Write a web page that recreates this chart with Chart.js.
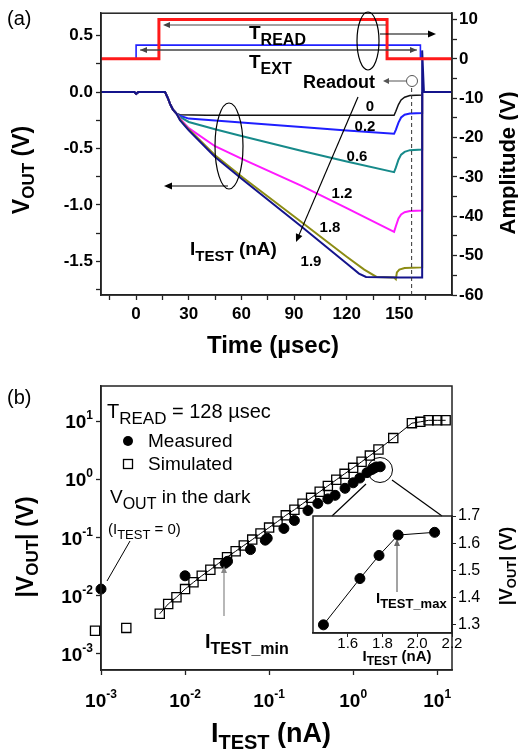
<!DOCTYPE html>
<html><head><meta charset="utf-8">
<script src="https://cdn.jsdelivr.net/npm/chart.js@4.4.1/dist/chart.umd.min.js"></script>
<style>
html,body{margin:0;padding:0;background:#fff;}
body{width:518px;height:753px;position:relative;overflow:hidden;}
canvas{position:absolute;}
#ca{left:0;top:0;} #cb{left:0;top:370px;} #ci{left:300px;top:500px;}
</style></head><body>
<canvas id="ca" width="518" height="370"></canvas>
<canvas id="cb" width="518" height="383"></canvas>
<canvas id="ci" width="218" height="180"></canvas>
<script>
// ---------- Panel (a) data ----------
const tRead = [-20, 13, 13, 143, 143, 180];
const vRead = [0, 0, 10, 10, 0, 0];
const tExt = [-20, 0, 0, 162, 162, 180];
const vExt = [0, 0, 3.5, 3.5, 0, 0];

const t0 = [-20,-1,0,1.2,16.5,18,19.5,21,23,25,40,147,148,149.5,151,153,156,163,163];
const v0 = [0,0,-0.015,0,0,-0.05,-0.11,-0.155,-0.19,-0.2,-0.205,-0.205,-0.17,-0.11,-0.07,-0.045,-0.03,-0.025,0];
const t02 = [-20,-1,0,1.2,16.5,18,19.5,21,23,25,30,60,94,120,147,148,149.5,151,153,156,163,163];
const v02 = [0,0,-0.015,0,0,-0.05,-0.11,-0.155,-0.19,-0.21,-0.235,-0.27,-0.31,-0.34,-0.37,-0.335,-0.27,-0.225,-0.2,-0.19,-0.185,0];
const t06 = [-20,-1,0,1.2,16.5,18,19.5,21,23,25,30,45,60,94,120,147,148,149.5,151,153,156,163,163];
const v06 = [0,0,-0.015,0,0,-0.05,-0.11,-0.155,-0.19,-0.22,-0.265,-0.33,-0.39,-0.52,-0.615,-0.71,-0.67,-0.6,-0.555,-0.53,-0.515,-0.51,0];
const t12 = [-20,-1,0,1.2,16.5,18,19.5,21,23,25,30,45,60,94,120,147,148,149.5,151,153,156,163,163];
const v12 = [0,0,-0.015,0,0,-0.05,-0.11,-0.155,-0.19,-0.235,-0.32,-0.48,-0.59,-0.83,-1.03,-1.24,-1.19,-1.12,-1.085,-1.065,-1.055,-1.05,0];
const t18 = [-20,-1,0,1.2,16.5,18,19.5,21,23,25,30,45,61,94,120,130,137,147,148,148.6,150,153,163,163];
const v18 = [0,0,-0.015,0,0,-0.05,-0.11,-0.155,-0.19,-0.245,-0.33,-0.56,-0.76,-1.15,-1.46,-1.575,-1.64,-1.645,-1.66,-1.6,-1.575,-1.56,-1.555,0];
const t19 = [-20,-1,0,1.2,16.5,18,19.5,21,23,25,30,45,61,94,120,127,131,150,163,163,164,180];
const v19 = [0,0,-0.015,0,0,-0.05,-0.11,-0.155,-0.19,-0.25,-0.34,-0.575,-0.78,-1.19,-1.52,-1.61,-1.64,-1.645,-1.645,0.37,0,0];

const timeTicks = [-15,0,15,30,45,60,75,90,105,120,135,150,165];
const timeLabels = [0,30,60,90,120,150];
const voutTicks = [-1.75,-1.5,-1.25,-1,-0.75,-0.5,-0.25,0,0.25,0.5];
const ampTicks = [-60,-55,-50,-45,-40,-35,-30,-25,-20,-15,-10,-5,0,5,10];

// ---------- Panel (b) data ----------
const measX = [0.001,0.01,0.03,0.032,0.06,0.09,0.095,0.15,0.2,0.29,0.38,0.5,0.61,0.8,1.0,1.2,1.46,1.67,1.78,1.89,2.1];
const measY = [0.013,0.022,0.036,0.039,0.062,0.09,0.097,0.143,0.196,0.29,0.385,0.46,0.53,0.70,0.87,1.05,1.30,1.47,1.555,1.63,1.64];
const simX = [0.00085,0.002,0.005,0.0063,0.0079,0.01,0.0126,0.0158,0.02,0.025,0.0316,0.04,0.05,0.063,0.079,0.1,0.126,0.158,0.2,0.25,0.316,0.4,0.5,0.63,0.79,1.0,1.26,1.58,2.0,3.0,5.0,6.3,7.9,10,12.6];
const simY = [0.0025,0.0028,0.0049,0.0072,0.0094,0.013,0.017,0.022,0.028,0.036,0.046,0.058,0.073,0.092,0.117,0.148,0.188,0.24,0.30,0.38,0.48,0.61,0.77,0.98,1.24,1.57,2.0,2.55,3.25,5.1,9.2,9.7,10.3,10.3,10.3];
const decadeTicks = [0.001,0.01,0.1,1,10];
const decadeExp = ['-3','-2','-1','0','1'];
const insX = [1.46,1.67,1.78,1.89,2.1];
const insY = [1.30,1.47,1.555,1.63,1.64];
const insXTicks = [1.6,1.8,2.0,2.2];
const insYTicks = [1.3,1.4,1.5,1.6,1.7];

// ---------- helpers ----------
const FF = '"Liberation Sans", Arial, Helvetica, sans-serif';
const B = s => `bold ${s}px ${FF}`;
const R = s => `${s}px ${FF}`;
const xy = (a, b) => a.map((x, i) => ({x, y: b[i]}));

function drawParts(ctx, parts, x, y, align) {
  let w = 0;
  for (const p of parts) { ctx.font = p[1]; w += ctx.measureText(p[0]).width; }
  let cx = align === 'center' ? x - w / 2 : align === 'right' ? x - w : x;
  ctx.textAlign = 'left'; ctx.textBaseline = 'alphabetic'; ctx.fillStyle = '#000';
  for (const p of parts) { ctx.font = p[1]; ctx.fillText(p[0], cx, y + (p[2] || 0)); cx += ctx.measureText(p[0]).width; }
}
function rotParts(ctx, parts, x, y) {
  ctx.save(); ctx.translate(x, y); ctx.rotate(-Math.PI / 2); drawParts(ctx, parts, 0, 0, 'center'); ctx.restore();
}
function arrow(ctx, x1, y1, x2, y2, col, lw, hl = 8, hw = 3.5) {
  ctx.save(); ctx.strokeStyle = col; ctx.fillStyle = col; ctx.lineWidth = lw;
  const a = Math.atan2(y2 - y1, x2 - x1), c = Math.cos(a), s = Math.sin(a);
  ctx.beginPath(); ctx.moveTo(x1, y1); ctx.lineTo(x2 - c * hl * 0.8, y2 - s * hl * 0.8); ctx.stroke();
  ctx.beginPath(); ctx.moveTo(x2, y2);
  ctx.lineTo(x2 - c * hl + s * hw, y2 - s * hl - c * hw);
  ctx.lineTo(x2 - c * hl - s * hw, y2 - s * hl + c * hw);
  ctx.closePath(); ctx.fill(); ctx.restore();
}
function line(ctx, x1, y1, x2, y2, col, lw, dash) {
  ctx.save(); ctx.strokeStyle = col; ctx.lineWidth = lw; if (dash) ctx.setLineDash(dash);
  ctx.beginPath(); ctx.moveTo(x1, y1); ctx.lineTo(x2, y2); ctx.stroke(); ctx.restore();
}
function ellipse(ctx, cx, cy, rx, ry, col, lw) {
  ctx.save(); ctx.strokeStyle = col; ctx.lineWidth = lw; ctx.beginPath();
  ctx.ellipse(cx, cy, rx, ry, 0, 0, Math.PI * 2); ctx.stroke(); ctx.restore();
}
function box(chart) {
  const a = chart.chartArea, ctx = chart.ctx;
  ctx.save(); ctx.strokeStyle = '#222'; ctx.lineWidth = 1.5;
  ctx.strokeRect(a.left, a.top, a.right - a.left, a.bottom - a.top); ctx.restore();
}
const AX = '#222';
function axisOpts(extra) {
  return Object.assign({
    grid: {drawOnChartArea: false, drawTicks: true, tickLength: 5, tickColor: AX, tickWidth: 1.3},
    border: {color: AX, width: 1.5}
  }, extra);
}
const tickFont = {family: FF, size: 17, weight: 'bold'};

// ---------- Chart (a) ----------
const annA = {
  id: 'annA',
  afterDraw(chart) {
    const ctx = chart.ctx;
    box(chart);
    drawParts(ctx, [['(a)', R(20), 0]], 7, 25, 'left');
    arrow(ctx, 386, 25, 163, 25, '#444', 1, 7, 3);
    arrow(ctx, 140, 50, 417, 50, '#444', 1, 7, 3);
    arrow(ctx, 417, 50, 140, 50, '#444', 1, 7, 3);
    drawParts(ctx, [['T', B(19), 0], ['READ', B(16), 6]], 249, 39, 'left');
    drawParts(ctx, [['T', B(19), 0], ['EXT', B(16), 6]], 249, 68, 'left');
    ellipse(ctx, 368, 41, 11, 29, '#000', 1.2);
    arrow(ctx, 380, 34, 436, 34, '#000', 1.2, 8, 3.5);
    drawParts(ctx, [['Readout', B(18), 0]], 303, 88, 'left');
    ellipse(ctx, 412, 81, 5.5, 5.5, '#555', 1);
    arrow(ctx, 406, 81, 383, 81, '#555', 1, 6, 3);
    const xs = chart.scales.x.getPixelForValue(157);
    line(ctx, xs, 88, xs, chart.chartArea.bottom, '#333', 1, [4, 3]);
    ctx.textBaseline = 'middle'; ctx.textAlign = 'center'; ctx.font = B(15); ctx.fillStyle = '#000';
    [['0', 370, 107], ['0.2', 365, 127], ['0.6', 357, 157], ['1.2', 342, 194], ['1.8', 330, 228], ['1.9', 311, 262]]
      .forEach(l => ctx.fillText(l[0], l[1], l[2]));
    arrow(ctx, 358, 97, 296, 242, '#000', 1.2, 8, 3.5);
    drawParts(ctx, [['I', B(19), 0], ['TEST', B(15), 6], [' (nA)', B(19), 0]], 190, 255, 'left');
    ellipse(ctx, 229, 146, 14, 43, '#000', 1.2);
    arrow(ctx, 228, 186, 164, 186, '#000', 1.2, 8, 3.5);
    rotParts(ctx, [['V', B(23), 0], ['OUT', B(17), 5], [' (V)', B(23), 0]], 29, 170);
    rotParts(ctx, [['Amplitude (V)', B(22), 0]], 515, 163);
    drawParts(ctx, [['Time (\u00b5sec)', B(24), 0]], 273, 353, 'center');
  }
};

new Chart(document.getElementById('ca'), {
  type: 'line',
  data: {datasets: [
    {data: xy(tRead, vRead), yAxisID: 'yR', borderColor: '#ff1a1a', borderWidth: 3},
    {data: xy(t19, v19), yAxisID: 'yL', borderColor: '#14148c', borderWidth: 2},
    {data: xy(t18, v18), yAxisID: 'yL', borderColor: '#8c8c14', borderWidth: 2},
    {data: xy(t12, v12), yAxisID: 'yL', borderColor: '#ff1aff', borderWidth: 2},
    {data: xy(t06, v06), yAxisID: 'yL', borderColor: '#178a8a', borderWidth: 2},
    {data: xy(t02, v02), yAxisID: 'yL', borderColor: '#1f1fff', borderWidth: 2},
    {data: xy(t0, v0), yAxisID: 'yL', borderColor: '#111', borderWidth: 1.5},
    {data: xy(tExt, vExt), yAxisID: 'yR', borderColor: '#2020ff', borderWidth: 1.6}
  ]},
  options: {
    responsive: false, animation: false, devicePixelRatio: 1,
    layout: {padding: {top: 10, left: 0, right: 0, bottom: 0}},
    elements: {point: {radius: 0}, line: {tension: 0, fill: false}},
    plugins: {legend: {display: false}, tooltip: {enabled: false}},
    scales: {
      x: axisOpts({type: 'linear', position: 'bottom', min: -20, max: 180,
        afterBuildTicks: s => { s.ticks = timeTicks.map(v => ({value: v})); },
        afterFit: s => { s.height = 75; },
        ticks: {autoSkip: false, maxRotation: 0, padding: 4, color: '#000', font: tickFont,
          callback: v => timeLabels.includes(v) ? String(v) : ''}}),
      yL: axisOpts({type: 'linear', position: 'left', min: -1.8, max: 0.7,
        afterBuildTicks: s => { s.ticks = voutTicks.map(v => ({value: v})); },
        afterFit: s => { s.width = 101; },
        ticks: {autoSkip: false, padding: 3, color: '#000', font: tickFont,
          callback: v => Math.abs(v * 2 - Math.round(v * 2)) < 1e-9 ? v.toFixed(1) : ''}}),
      yR: axisOpts({type: 'linear', position: 'right', min: -60, max: 11.6,
        afterBuildTicks: s => { s.ticks = ampTicks.map(v => ({value: v})); },
        afterFit: s => { s.width = 66; },
        ticks: {autoSkip: false, padding: 2, color: '#000', font: tickFont,
          callback: v => v % 10 === 0 ? String(v) : ''}})
    }
  },
  plugins: [annA]
});

// ---------- Chart (b) ----------
function expLabel(ctx, x, y, exp, align) {
  drawParts(ctx, [['10', B(19), 0], [exp, B(12), -9]], x, y, align);
}
const annB = {
  id: 'annB',
  afterDraw(chart) {
    const ctx = chart.ctx;
    box(chart);
    const sx = chart.scales.x, sy = chart.scales.y;
    ctx.save(); ctx.translate(0, -370);
    decadeTicks.forEach((v, i) => {
      expLabel(ctx, sx.getPixelForValue(v), 707, decadeExp[i], 'center');
      expLabel(ctx, 93, sy.getPixelForValue(v) + 370 + 7, decadeExp[i], 'right');
    });
    drawParts(ctx, [['(b)', R(20), 0]], 7, 404, 'left');
    drawParts(ctx, [['T', R(20), 0], ['READ', R(17), 6], [' = 128 \u00b5sec', R(20), 0]], 107, 418, 'left');
    ctx.fillStyle = '#000'; ctx.beginPath(); ctx.arc(128, 441, 5, 0, Math.PI * 2); ctx.fill();
    drawParts(ctx, [['Measured', R(19), 0]], 148, 447, 'left');
    ctx.strokeStyle = '#000'; ctx.lineWidth = 1.3; ctx.strokeRect(123.5, 459.5, 9, 9);
    drawParts(ctx, [['Simulated', R(19), 0]], 148, 470, 'left');
    drawParts(ctx, [['V', R(19), 0], ['OUT', R(16), 6], [' in the dark', R(19), 0]], 110, 503, 'left');
    drawParts(ctx, [['(I', R(15), 0], ['TEST', R(13), 5], [' = 0)', R(15), 0]], 108, 534, 'left');
    line(ctx, 107, 581, 130, 541, '#000', 1);
    drawParts(ctx, [['I', B(20), 0], ['TEST_min', B(16), 6]], 205, 648, 'left');
    arrow(ctx, 224, 616, 224, 566, '#888', 1.2, 7, 3);
    ellipse(ctx, 380, 470, 12.5, 12.5, '#000', 1);
    line(ctx, 366, 484, 332, 516, '#000', 1.2);
    line(ctx, 392, 480, 442, 516, '#000', 1.2);
    drawParts(ctx, [['I', B(15), 0], ['TEST_max', B(13), 5]], 376, 603, 'left');
    arrow(ctx, 397, 592, 397, 539, '#666', 1.2, 7, 3);
    drawParts(ctx, [['I', B(15), 0], ['TEST', B(12), 4], [' (nA)', B(15), 0]], 397, 661, 'center');
    rotParts(ctx, [['|V', B(23), 0], ['OUT', B(17), 5], ['| (V)', B(23), 0]], 33, 547);
    rotParts(ctx, [['|V', B(18), 0], ['OUT', B(13), 4], ['| (V)', B(18), 0]], 512, 566);
    drawParts(ctx, [['I', B(27), 0], ['TEST', B(20), 7], [' (nA)', B(27), 0]], 271, 742, 'center');
    ctx.restore();
  }
};

new Chart(document.getElementById('cb'), {
  type: 'line',
  data: {datasets: [
    {data: xy(measX, measY), showLine: false, pointRadius: 5, pointBackgroundColor: '#000',
      pointBorderColor: '#000', pointBorderWidth: 1, clip: false},
    {data: xy(simX, simY), showLine: true, borderColor: '#000', borderWidth: 1, pointStyle: 'rect',
      pointRadius: 6.5, pointBackgroundColor: 'rgba(0,0,0,0)', pointBorderColor: '#000', pointBorderWidth: 1.3,
      clip: false, segment: {borderColor: c => c.p0DataIndex < 2 ? 'rgba(0,0,0,0)' : '#000'}}
  ]},
  options: {
    responsive: false, animation: false, devicePixelRatio: 1,
    layout: {padding: {top: 16, left: 0, right: 66, bottom: 0}},
    elements: {line: {tension: 0, fill: false}},
    plugins: {legend: {display: false}, tooltip: {enabled: false}},
    scales: {
      x: axisOpts({type: 'logarithmic', position: 'bottom', min: 0.001, max: 15,
        afterBuildTicks: s => { s.ticks = decadeTicks.map(v => ({value: v})); },
        afterFit: s => { s.height = 83; },
        ticks: {autoSkip: false, maxRotation: 0, callback: () => ''}}),
      y: axisOpts({type: 'logarithmic', position: 'left', min: 0.00053, max: 40,
        afterBuildTicks: s => { s.ticks = decadeTicks.map(v => ({value: v})); },
        afterFit: s => { s.width = 101; },
        ticks: {autoSkip: false, callback: () => ''}})
    }
  },
  plugins: [annB]
});

// ---------- Inset ----------
new Chart(document.getElementById('ci'), {
  type: 'line',
  data: {datasets: [
    {data: xy(insX, insY), borderColor: '#000', borderWidth: 1, pointRadius: 5,
      pointBackgroundColor: '#000', pointBorderColor: '#000', clip: false}
  ]},
  options: {
    responsive: false, animation: false, devicePixelRatio: 1,
    layout: {padding: {top: 16, left: 13, right: 0, bottom: 0}},
    elements: {line: {tension: 0, fill: false}},
    plugins: {legend: {display: false}, tooltip: {enabled: false}},
    scales: {
      x: axisOpts({type: 'linear', position: 'bottom', min: 1.4, max: 2.2,
        afterBuildTicks: s => { s.ticks = insXTicks.map(v => ({value: v})); },
        afterFit: s => { s.height = 47; },
        grid: {drawOnChartArea: false, tickLength: 4, tickColor: AX},
        ticks: {autoSkip: false, maxRotation: 0, padding: -2, color: '#000', font: {family: FF, size: 15},
          callback: v => v.toFixed(1)}}),
      y: axisOpts({type: 'linear', position: 'right', min: 1.27, max: 1.7,
        afterBuildTicks: s => { s.ticks = insYTicks.map(v => ({value: v})); },
        afterFit: s => { s.width = 66; },
        grid: {drawOnChartArea: false, tickLength: 4, tickColor: AX},
        ticks: {autoSkip: false, padding: 2, color: '#000', font: {family: FF, size: 16},
          callback: v => v.toFixed(1)}})
    }
  },
  plugins: [{id: 'boxI', afterDraw: c => box(c)}]
});
</script></body></html>
